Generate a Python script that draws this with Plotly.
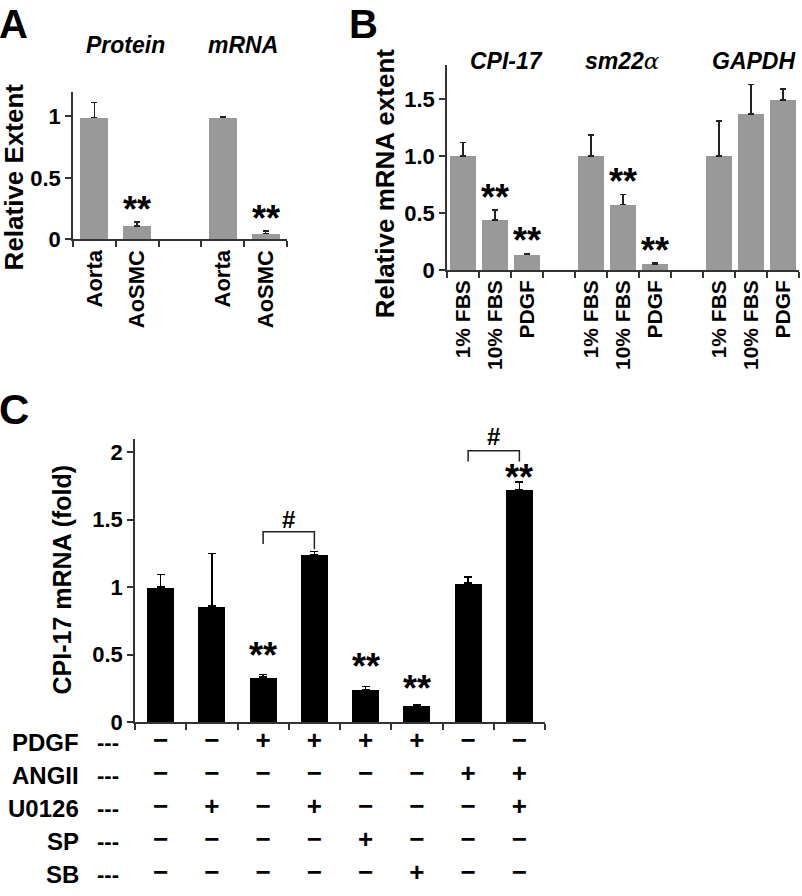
import plotly.graph_objects as go

W, H = 802, 896
FONT = "Liberation Sans, Arial, sans-serif"
GRAY = "#999999"
AXC = "#333333"

# ---------------- Panel A data ----------------
a_keys = ["prot_aorta", "prot_aosmc", "gap", "mrna_aorta", "mrna_aosmc"]
a_labels = ["Aorta", "AoSMC", "", "Aorta", "AoSMC"]
a_values = [0.99, 0.11, None, 0.99, 0.05]
a_err = [0.12, 0.03, None, 0.01, 0.02]
a_sig = ["", "**", "", "", "**"]
a_groups = ["Protein", "mRNA"]

# ---------------- Panel B data ----------------
b_keys = ["c1", "c10", "cP", "g1", "s1", "s10", "sP", "g2", "h1", "h10", "hP"]
b_labels = ["1% FBS", "10% FBS", "PDGF", "", "1% FBS", "10% FBS", "PDGF", "",
            "1% FBS", "10% FBS", "PDGF"]
b_values = [1.00, 0.44, 0.135, None, 1.00, 0.575, 0.052, None, 1.00, 1.37, 1.495]
b_err = [0.12, 0.085, 0.012, None, 0.185, 0.09, 0.01, None, 0.31, 0.26, 0.095]
b_sig = ["", "**", "**", "", "", "**", "**", "", "", "", ""]
b_groups = ["CPI-17", "sm22<span style='font-family:DejaVu Serif;font-weight:normal'>α</span>", "GAPDH"]

# ---------------- Panel C data ----------------
c_keys = ["Control", "U0126", "PDGF", "PDGF+U0126", "PDGF+SP", "PDGF+SB",
          "ANGII", "ANGII+U0126"]
c_values = [1.00, 0.86, 0.335, 1.24, 0.24, 0.125, 1.03, 1.72]
c_err = [0.095, 0.39, 0.02, 0.025, 0.025, 0.008, 0.045, 0.06]
c_sig = ["", "", "**", "", "**", "**", "", "**"]
c_star_gap = [0, 0, 18, 0, 20, 15, 0, 4]
c_brackets = [  # (left key, right key, top, left leg bottom, right leg bottom, "#" centre)
    ("PDGF", "PDGF+U0126", 1.41, 1.32, 1.28, 1.50),
    ("ANGII", "ANGII+U0126", 2.01, 1.93, 1.93, 2.115),
]
c_rows = ["PDGF", "ANGII", "U0126", "SP", "SB"]
c_table = [
    ["-", "-", "+", "+", "+", "+", "-", "-"],
    ["-", "-", "-", "-", "-", "-", "+", "+"],
    ["-", "+", "-", "+", "-", "-", "-", "+"],
    ["-", "-", "-", "-", "+", "-", "-", "-"],
    ["-", "-", "-", "-", "-", "+", "-", "-"],
]


def fx(px):
    return px / W


def fy(py):
    return 1 - py / H


fig = go.Figure()


def err_dict(err, color, width):
    return dict(type="data", symmetric=False, array=err,
                arrayminus=[0 if e is not None else None for e in err],
                color=color, thickness=1.5, width=width)


fig.add_trace(go.Bar(x=a_keys, y=a_values, xaxis="x", yaxis="y", width=0.65,
                     marker=dict(color=GRAY, line=dict(width=0)),
                     error_y=err_dict(a_err, "#222222", 3), showlegend=False))
fig.add_trace(go.Bar(x=b_keys, y=b_values, xaxis="x2", yaxis="y2", width=0.8,
                     marker=dict(color=GRAY, line=dict(width=0)),
                     error_y=err_dict(b_err, "#222222", 3), showlegend=False))
fig.add_trace(go.Bar(x=c_keys, y=c_values, xaxis="x3", yaxis="y3", width=0.53,
                     marker=dict(color="black", line=dict(width=0)),
                     error_y=err_dict(c_err, "black", 4), showlegend=False))

# brackets
for lk, rk, top, lb, rb, hy in c_brackets:
    fig.add_trace(go.Scatter(x=[lk, lk, rk, rk], y=[lb, top, top, rb], xaxis="x3", yaxis="y3",
                             mode="lines", line=dict(color="#222222", width=1.5),
                             showlegend=False, hoverinfo="skip", cliponaxis=False))

# table signs
tx, ty, tt = [], [], []
for r, row in enumerate(c_rows):
    for k, s in zip(c_keys, c_table[r]):
        tx.append(k)
        ty.append(r)
        tt.append("+" if s == "+" else "\u2212")
fig.add_trace(go.Scatter(x=tx, y=ty, text=tt, mode="text", xaxis="x3", yaxis="y4",
                         textfont=dict(family=FONT, size=26, color="black", weight="bold"),
                         showlegend=False, hoverinfo="skip", cliponaxis=False))

tickfont = dict(family=FONT, size=22, color="black", weight="bold")


def xcat(domain, keys, labels, anchor, size, show=True):
    return dict(domain=domain, anchor=anchor, type="category", categoryorder="array",
                categoryarray=keys, tickmode="array", tickvals=keys, ticktext=labels,
                tickangle=-90, tickson="boundaries", ticks="outside", ticklen=6,
                tickcolor=AXC, tickwidth=1.5, showline=True, linecolor=AXC, linewidth=1.5,
                range=[-0.5, len(keys) - 0.5], showgrid=False, zeroline=False,
                showticklabels=show,
                tickfont=dict(family=FONT, size=size, color="black", weight="bold"),
                fixedrange=True)


def yax(domain, anchor, rng, vals, texts):
    return dict(domain=domain, anchor=anchor, range=rng, tickmode="array", tickvals=vals,
                ticktext=texts, ticks="outside", ticklen=6, tickcolor=AXC, tickwidth=1.5,
                showline=True, linecolor=AXC, linewidth=1.5, showgrid=False, zeroline=False,
                tickfont=tickfont, fixedrange=True)


# table axis geometry: row 0 at 753px, spacing 33.5px, domain from 736px to bottom
row0, rstep, ttop = 753, 33.5, 736
y4_range = [(H - row0) / rstep, (ttop - row0) / rstep]

C_Y0, C_Y1, C_MAX = 733, 445, 2.1

fig.update_layout(
    width=W, height=H, autosize=False,
    margin=dict(l=0, r=0, t=0, b=0),
    paper_bgcolor="white", plot_bgcolor="white",
    bargap=0,
    xaxis=xcat([fx(73), fx(287)], a_keys, a_labels, "y", 22),
    yaxis=yax([fy(243), fy(93)], "x", [0, 1.2], [0, 0.5, 1], ["0", "0.5", "1"]),
    xaxis2=xcat([fx(447), fx(799)], b_keys, b_labels, "y2", 21),
    yaxis2=yax([fy(274), fy(66)], "x2", [0, 1.8], [0, 0.5, 1.0, 1.5], ["0", "0.5", "1.0", "1.5"]),
    xaxis3=xcat([fx(135), fx(545)], c_keys, c_keys, "y3", 20, show=False),
    yaxis3=yax([fy(C_Y0), fy(C_Y1)], "x3", [0, C_MAX], [0, 0.5, 1, 1.5, 2],
               ["0", "0.5", "1", "1.5", "2"]),
    yaxis4=dict(domain=[0, fy(ttop)], anchor="x3", range=y4_range, visible=False,
                fixedrange=True),
)

ann = []


def add_text(x, y, text, size, bold=True, italic=False, xanchor="center", yanchor="middle",
             xref="paper", yref="paper", angle=0, yshift=0):
    t = text
    if italic:
        t = "<i>" + t + "</i>"
    ann.append(dict(x=x, y=y, xref=xref, yref=yref, text=t, showarrow=False,
                    xanchor=xanchor, yanchor=yanchor, textangle=angle, yshift=yshift,
                    font=dict(family=FONT, size=size, color="black",
                              weight="bold" if bold else "normal")))


# panel letters
add_text(fx(-3), fy(0), "A", 40, xanchor="left", yanchor="top")
add_text(fx(347), fy(0), "B", 40, xanchor="left", yanchor="top")
add_text(fx(-3), fy(390), "C", 42, xanchor="left", yanchor="top")

# group titles
for g, px in zip(a_groups, [125, 243]):
    add_text(fx(px), fy(46), g, 23, italic=True)
for g, px in zip(b_groups, [506, 622, 753]):
    add_text(fx(px), fy(62), g, 23, italic=True)

# axis titles
add_text(fx(14), fy(180), "Relative Extent", 26, angle=-90)
add_text(fx(385), fy(186), "Relative mRNA extent", 26, angle=-90)
add_text(fx(62), fy(588), "CPI-17 mRNA (fold)", 25, angle=-90)

# significance stars
for k, v, e, s in zip(a_keys, a_values, a_err, a_sig):
    if s:
        add_text(k, v + e, s, 36, yanchor="bottom", xref="x", yref="y", yshift=-10)
for k, v, e, s in zip(b_keys, b_values, b_err, b_sig):
    if s:
        add_text(k, v + e, s, 36, yanchor="bottom", xref="x2", yref="y2", yshift=-10)
for k, v, e, s, gp in zip(c_keys, c_values, c_err, c_sig, c_star_gap):
    if s:
        add_text(k, v + e, s, 36, yanchor="bottom", xref="x3", yref="y3",
                 yshift=gp - 22)

# bracket hashes (paper coords so the one above the axis top is still drawn)
for lk, rk, top, lb, rb, hy in c_brackets:
    i = c_keys.index(lk)
    ypx = C_Y0 - hy / C_MAX * (C_Y0 - C_Y1)
    ann.append(dict(x=i + 0.5, y=fy(ypx), xref="x3", yref="paper", text="#", showarrow=False,
                    xanchor="center", yanchor="middle",
                    font=dict(family=FONT, size=24, color="black", weight="bold")))

# table row labels
for r, name in enumerate(c_rows):
    add_text(fx(81), r, name, 24, xanchor="right", yref="y4")
    add_text(fx(108), r, "---", 22, yref="y4")

fig.update_layout(annotations=ann)
fig.write_html("out.html", config={"displayModeBar": False},
               post_script="document.body.style.margin='0px';")
